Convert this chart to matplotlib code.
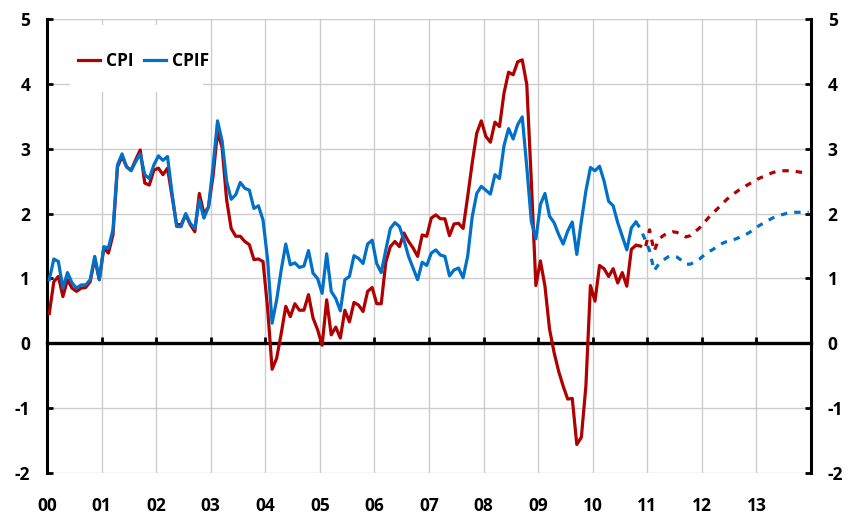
import numpy as np
import matplotlib
matplotlib.use("Agg")
import matplotlib.pyplot as plt
from matplotlib.patches import Rectangle

plt.rcParams['font.family'] = ['Open Sans', 'DejaVu Sans']
plt.rcParams['font.weight'] = 'bold'

# Monthly outcomes Jan 2000 - Oct 2010
cpi = [
    0.46, 0.95, 1.03, 0.72, 0.98, 0.85, 0.80, 0.85, 0.86, 0.95, 1.31, 0.98,
    1.47, 1.39, 1.67, 2.72, 2.88, 2.72, 2.67, 2.83, 2.98, 2.47, 2.44, 2.67,
    2.70, 2.60, 2.70, 2.26, 1.83, 1.83, 1.98, 1.83, 1.72, 2.31, 2.00, 2.10,
    2.57, 3.26, 3.02, 2.21, 1.77, 1.65, 1.65, 1.57, 1.52, 1.29, 1.30, 1.26,
    0.55, -0.40, -0.23, 0.15, 0.57, 0.41, 0.61, 0.51, 0.51, 0.75, 0.39, 0.21,
    -0.03, 0.67, 0.13, 0.25, 0.08, 0.51, 0.33, 0.63, 0.59, 0.49, 0.80, 0.86,
    0.61, 0.61, 1.25, 1.49, 1.57, 1.49, 1.70, 1.57, 1.47, 1.34, 1.67, 1.65,
    1.93, 1.98, 1.92, 1.92, 1.66, 1.84, 1.85, 1.77, 2.26, 2.78, 3.24, 3.43,
    3.19, 3.10, 3.41, 3.34, 3.86, 4.18, 4.14, 4.34, 4.37, 3.99, 2.50, 0.89,
    1.27, 0.88, 0.22, -0.14, -0.43, -0.66, -0.86, -0.85, -1.56, -1.45, -0.66, 0.89,
    0.65, 1.20, 1.15, 1.03, 1.15, 0.93, 1.09, 0.88, 1.45, 1.51,
]
cpif = [
    0.98, 1.30, 1.26, 0.85, 1.09, 0.93, 0.85, 0.90, 0.90, 0.98, 1.34, 0.98,
    1.49, 1.47, 1.75, 2.75, 2.92, 2.72, 2.66, 2.80, 2.92, 2.60, 2.54, 2.75,
    2.89, 2.82, 2.88, 2.31, 1.80, 1.80, 2.00, 1.85, 1.77, 2.21, 1.93, 2.10,
    2.72, 3.43, 3.12, 2.50, 2.22, 2.29, 2.48, 2.39, 2.36, 2.08, 2.12, 1.90,
    1.30, 0.31, 0.67, 1.13, 1.53, 1.21, 1.24, 1.17, 1.19, 1.43, 1.08, 1.00,
    0.77, 1.38, 0.80, 0.69, 0.50, 0.98, 1.03, 1.35, 1.31, 1.23, 1.53, 1.59,
    1.23, 1.09, 1.44, 1.77, 1.86, 1.80, 1.59, 1.34, 1.16, 0.98, 1.25, 1.20,
    1.39, 1.44, 1.36, 1.34, 1.04, 1.13, 1.16, 1.01, 1.34, 1.95, 2.31, 2.42,
    2.36, 2.30, 2.60, 2.54, 3.05, 3.31, 3.15, 3.37, 3.49, 2.72, 1.88, 1.61,
    2.14, 2.31, 1.96, 1.86, 1.68, 1.53, 1.73, 1.87, 1.37, 1.88, 2.35, 2.71,
    2.66, 2.73, 2.50, 2.19, 2.12, 1.86, 1.65, 1.44, 1.78, 1.87,
]
# Forecasts Oct 2010 (last outcome) - Dec 2013
cpi_fc = [
    1.51, 1.50, 1.45,
    1.75, 1.42, 1.60, 1.66, 1.70, 1.72, 1.71, 1.68, 1.64, 1.66, 1.72, 1.78,
    1.86, 1.94, 2.01, 2.08, 2.15, 2.22, 2.28, 2.33, 2.38, 2.42, 2.46, 2.50,
    2.54, 2.57, 2.60, 2.63, 2.65, 2.66, 2.66, 2.66, 2.65, 2.64, 2.63, 2.63,
]
cpif_fc = [
    1.87, 1.77, 1.60,
    1.43, 1.12, 1.22, 1.28, 1.33, 1.35, 1.33, 1.28, 1.22, 1.22, 1.26, 1.30,
    1.36, 1.41, 1.45, 1.50, 1.54, 1.57, 1.59, 1.61, 1.64, 1.67, 1.71, 1.76,
    1.81, 1.85, 1.89, 1.93, 1.96, 1.98, 2.00, 2.01, 2.02, 2.02, 2.02, 2.02,
]
year_ticks = list(range(2000, 2015))
year_labels = ['00', '01', '02', '03', '04', '05', '06', '07', '08', '09',
               '10', '11', '12', '13']
y_ticks = [-2, -1, 0, 1, 2, 3, 4, 5]

RED = '#B00000'
BLUE = '#0070C8'

start = 2000.0
x_out = start + (np.arange(len(cpi)) + 0.5) / 12
x_fc = start + (np.arange(len(cpi) - 1, len(cpi) - 1 + len(cpi_fc)) + 0.5) / 12

fig = plt.figure(figsize=(8.48, 5.13), dpi=100)
ax = fig.add_axes([47 / 848, 1 - 473 / 513, 764 / 848, 454 / 513])

ax.plot(x_out, cpi, color=RED, lw=2.3, label='CPI', zorder=3, solid_joinstyle='round')
ax.plot(x_out, cpif, color=BLUE, lw=2.3, label='CPIF', zorder=3, solid_joinstyle='round')
ax.plot(x_fc, cpi_fc, color=RED, lw=2.3, ls=(0, (2.0, 2.2)), zorder=3)
ax.plot(x_fc, cpif_fc, color=BLUE, lw=2.3, ls=(0, (2.0, 2.2)), zorder=3)

ax.set_xlim(2000, 2014)
ax.set_ylim(-2, 5)
ax.set_xticks(year_ticks)
ax.set_yticks(y_ticks)
ax.set_yticklabels([str(v) for v in y_ticks])
ax.grid(True, color='#CCCCCC', lw=1.0)
ax.set_axisbelow(True)

for s in ['left', 'right']:
    ax.spines[s].set_linewidth(2.2)
    ax.spines[s].set_color('black')
ax.spines['top'].set_visible(False)
ax.spines['bottom'].set_position(('data', 0))
ax.spines['bottom'].set_linewidth(2.4)
ax.spines['bottom'].set_zorder(2.5)

ax.tick_params(axis='x', direction='in', length=4, width=2, labelbottom=False)
ax.tick_params(axis='y', direction='in', length=4, width=2, left=True, right=True,
               labelleft=True, labelright=True, labelsize=12.5, pad=12)

sec = ax.secondary_xaxis('bottom')
sec.set_xticks(year_ticks[:-1])
sec.set_xticklabels(year_labels)
sec.tick_params(length=0, pad=17, labelsize=12.5)
sec.spines['bottom'].set_visible(False)

# white area behind the legend
ax.add_patch(Rectangle((0.030, 0.839), 0.174, 0.148, transform=ax.transAxes,
                       facecolor='white', edgecolor='none', zorder=1))
leg = ax.legend(loc='upper left', bbox_to_anchor=(0.029, 0.947), ncol=2, frameon=False,
                borderpad=0, handlelength=1.3, handletextpad=0.35, columnspacing=0.55,
                prop={'size': 12.5, 'weight': 'bold'})
for line in leg.get_lines():
    line.set_linewidth(2.3)

fig.savefig('out.png', dpi=100)
